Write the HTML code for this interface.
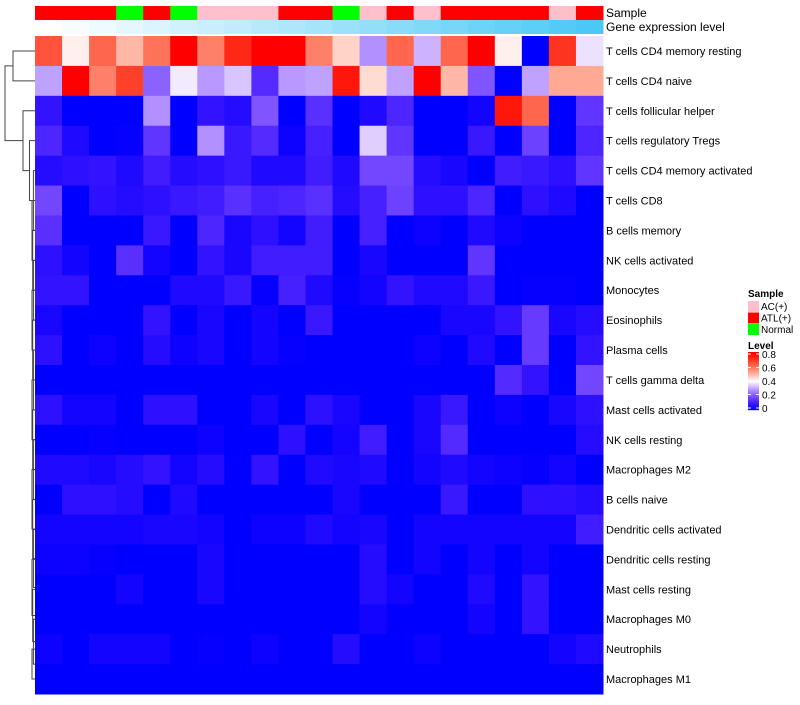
<!DOCTYPE html>
<html><head><meta charset="utf-8"><style>
body{margin:0;background:#fff;font-family:"Liberation Sans",sans-serif;}
svg text{font-family:"Liberation Sans",sans-serif;}
</style></head><body>
<svg id="chart" width="800" height="700" xmlns="http://www.w3.org/2000/svg"></svg>
<script>
const rowLabels=["T cells CD4 memory resting","T cells CD4 naive","T cells follicular helper","T cells regulatory  Tregs","T cells CD4 memory activated","T cells CD8","B cells memory","NK cells activated","Monocytes","Eosinophils","Plasma cells","T cells gamma delta","Mast cells activated","NK cells resting","Macrophages M2","B cells naive","Dendritic cells activated","Dendritic cells resting","Mast cells resting","Macrophages M0","Neutrophils","Macrophages M1"];
const sampleGroups=["ATL(+)","ATL(+)","ATL(+)","Normal","ATL(+)","Normal","AC(+)","AC(+)","AC(+)","ATL(+)","ATL(+)","Normal","AC(+)","ATL(+)","AC(+)","ATL(+)","ATL(+)","ATL(+)","ATL(+)","AC(+)","ATL(+)"];
const values=[
[0.65,0.42,0.62,0.5,0.6,0.8,0.58,0.72,0.8,0.8,0.58,0.46,0.28,0.62,0.32,0.62,0.8,0.42,0,0.7,0.37],
[0.3,0.8,0.58,0.68,0.22,0.38,0.29,0.34,0.13,0.29,0.3,0.75,0.45,0.3,0.8,0.5,0.2,0,0.3,0.52,0.52],
[0.08,0,0,0,0.28,0,0.08,0.06,0.2,0,0.14,0,0.05,0.12,0,0,0.03,0.75,0.62,0,0.15],
[0.12,0.05,0,0.01,0.15,0,0.28,0.09,0.13,0.02,0.11,0,0.35,0.15,0,0,0.09,0,0.17,0,0.12],
[0.06,0.07,0.08,0.05,0.1,0.06,0.07,0.09,0.05,0.05,0.1,0.05,0.18,0.18,0.06,0.04,0,0.1,0.09,0.07,0.15],
[0.18,0,0.07,0.06,0.07,0.09,0.1,0.14,0.11,0.12,0.14,0.06,0.11,0.17,0.07,0.07,0.12,0,0.07,0.05,0],
[0.14,0,0,0,0.09,0,0.12,0.04,0.07,0.03,0.1,0,0.11,0,0.02,0,0.05,0.02,0,0,0],
[0.07,0.03,0,0.14,0.03,0,0.08,0.04,0.1,0.1,0.1,0,0.04,0,0,0,0.15,0,0,0,0],
[0.08,0.08,0,0,0,0.05,0.05,0.09,0.01,0.11,0.05,0.01,0.03,0.08,0.05,0.05,0.09,0,0.01,0.01,0],
[0.04,0,0,0,0.08,0,0.04,0,0.03,0,0.09,0,0,0,0,0.04,0.04,0.08,0.16,0.04,0.06],
[0.07,0,0.02,0,0.06,0.02,0.04,0,0.03,0.01,0,0,0,0,0.02,0,0.05,0,0.16,0,0.08],
[0,0,0,0,0,0,0,0,0,0,0,0,0,0,0,0,0,0.13,0.08,0,0.18],
[0.07,0.03,0.03,0,0.07,0.07,0,0,0.04,0,0.07,0.04,0,0,0.04,0.09,0,0.02,0,0.04,0.07],
[0,0,0.01,0,0,0,0.02,0,0,0.07,0,0.03,0.1,0,0.04,0.13,0,0,0,0,0.06],
[0.05,0.05,0.04,0.06,0.08,0.03,0.06,0,0.08,0,0.05,0.04,0.05,0,0.03,0.05,0.03,0.02,0.01,0.03,0],
[0,0.07,0.07,0.06,0,0.05,0,0,0,0,0,0.04,0,0,0,0.09,0,0,0.07,0.07,0.06],
[0.03,0.03,0.03,0.03,0.04,0.04,0.03,0,0.02,0.02,0.05,0.03,0.04,0,0.03,0.03,0.03,0.03,0.03,0.03,0.1],
[0.02,0.02,0.01,0,0,0,0.04,0,0,0,0,0,0.06,0,0.03,0,0.03,0,0.03,0,0],
[0,0,0,0.03,0,0,0.04,0,0,0,0,0,0.06,0.03,0,0,0.05,0,0.08,0,0],
[0,0,0,0,0,0,0,0,0,0,0,0,0.03,0,0,0,0.03,0,0.08,0,0],
[0.02,0,0.03,0.03,0.03,0,0.01,0,0.02,0,0,0.06,0,0,0.02,0,0,0,0,0.03,0.05],
[0,0,0,0,0,0,0,0,0,0,0,0,0,0,0,0,0,0,0,0,0]
];
const legendTicks=[0,0.2,0.4,0.6,0.8];
const groupColors={"AC(+)":"#FFC0CB","ATL(+)":"#FF0000","Normal":"#00FF00"};

const NS="http://www.w3.org/2000/svg";
const svg=document.getElementById('chart');
const X0=35,X1=603,Y0=36,Y1=694;
const nC=values[0].length,nR=values.length;
const cw=(X1-X0)/nC,rh=(Y1-Y0)/nR;
const xPos=c=>X0+c*cw, yPos=r=>Y0+r*rh;
function col(v){
  v=Math.max(0,Math.min(0.8,v));
  if(v<=0.4){const t=v/0.4;return `rgb(${Math.round(255*t)},${Math.round(255*Math.pow(t,1.6))},255)`;}
  const t=(v-0.4)/0.4;return `rgb(255,${Math.round(255*Math.pow(1-t,1.15))},${Math.round(255*Math.pow(1-t,1.5))})`;
}
function mk(tag,attrs,parent){const e=document.createElementNS(NS,tag);for(const k in attrs)e.setAttribute(k,attrs[k]);(parent||svg).appendChild(e);return e;}
sampleGroups.forEach((g,c)=>{
  const e=mk('rect',{x:xPos(c),y:6,width:cw+0.5,height:14,fill:groupColors[g]});
  
  
  const t=c/(nC-1);
  const e2=mk('rect',{x:xPos(c),y:20,width:cw+0.5,height:14,fill:`rgb(${Math.round(255-180*t)},${Math.round(255-55*t)},${Math.round(255-10*t)})`});
  
  
});
const t1=mk('text',{x:606,y:17,'font-size':12});t1.textContent='Sample';


const t2=mk('text',{x:606,y:31,'font-size':12});t2.textContent='Gene expression level';


values.forEach((row,r)=>{
  row.forEach((v,c)=>{
    const e=mk('rect',{x:xPos(c),y:yPos(r),width:cw+0.5,height:rh+0.5,fill:col(v)});
    
    
  });
  const l=mk('text',{x:606,y:yPos(r)+rh/2+4,'font-size':11});l.textContent=rowLabels[r];
  
  
});
// dendrogram
const yc=r=>yPos(r)+rh/2;
const dg=mk('g',{stroke:'#444','stroke-width':1,fill:'none'});


function link(xa,ya,xb,yb,xm){mk('path',{d:`M${xa},${ya}H${xm}V${yb}H${xb}`},dg);}
// lower comb (rows 4..21) near x 32-34
let yy=yc(21);
for(let r=20;r>=4;r--){const xm=32+((r+1)%3)*0.7;link(35,yc(r),35,yy,xm);yy=(yc(r)+yy)/2;}
const lowY=yy;
link(35,yc(3),31.5,lowY,29.5);
const midY=(yc(3)+lowY)/2;
link(35,yc(2),29.5,midY,23);
link(35,yc(0),35,yc(1),13);
link(13,(yc(0)+yc(1))/2,23,(yc(2)+midY)/2,5);
// legend
const lg=mk('g',{});


mk('text',{x:748,y:297,'font-size':10,'font-weight':'bold'},lg).textContent='Sample';
Object.keys(groupColors).forEach((g,i)=>{
  const s=mk('rect',{x:748,y:301+i*11.5,width:11,height:11,fill:groupColors[g]},lg);
  
  
  mk('text',{x:761,y:310+i*11.5,'font-size':10},lg).textContent=g;
});
mk('text',{x:748,y:349,'font-size':10,'font-weight':'bold'},lg).textContent='Level';
const LB0=410,LB1=352;
for(let i=0;i<58;i++){mk('rect',{x:748,y:LB1+i,width:11,height:1.2,fill:col(0.8*(1-i/58))},lg);}
legendTicks.forEach(t=>{
  const y=LB0-(t/0.8)*(LB0-LB1-4)-2;
  mk('line',{x1:748,x2:751,y1:y,y2:y,stroke:'#fff'},lg);
  mk('line',{x1:756,x2:759,y1:y,y2:y,stroke:'#fff'},lg);
  mk('text',{x:762,y:y+4,'font-size':10},lg).textContent=String(t);
});
</script>
</body></html>
